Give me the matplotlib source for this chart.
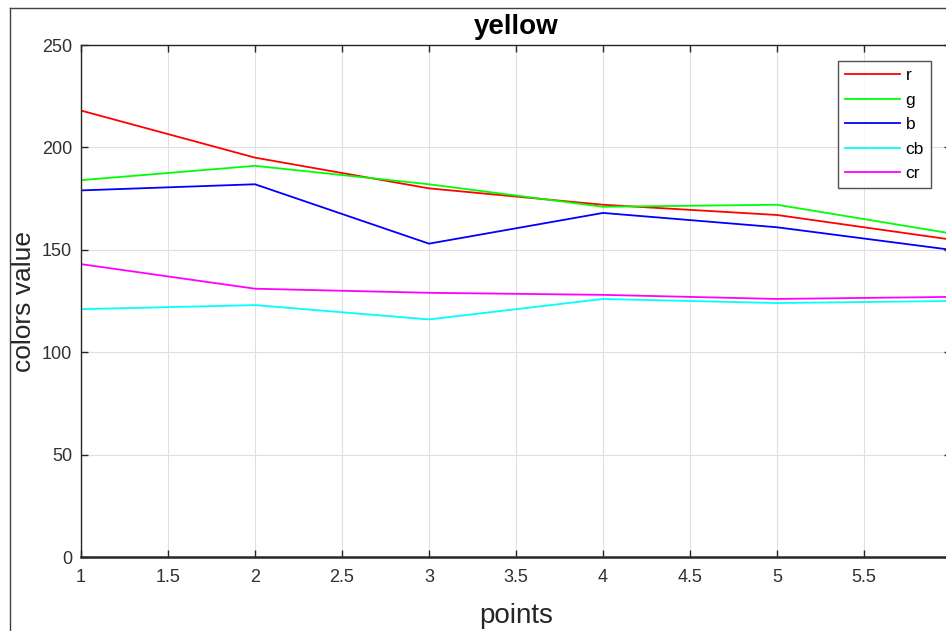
import matplotlib
matplotlib.use("Agg")
import matplotlib.pyplot as plt
from matplotlib.lines import Line2D

plt.rcParams["font.family"] = ["Liberation Sans", "DejaVu Sans"]

points = [1, 2, 3, 4, 5, 6]
r_vals = [218, 195, 180, 172, 167, 155]
g_vals = [184, 191, 182, 171, 172, 158]
b_vals = [179, 182, 153, 168, 161, 150]
cb_vals = [121, 123, 116, 126, 124, 125]
cr_vals = [143, 131, 129, 128, 126, 127]

series = [
    ("r", r_vals, "#ff0000"),
    ("g", g_vals, "#00ff00"),
    ("b", b_vals, "#0000ff"),
    ("cb", cb_vals, "#00ffff"),
    ("cr", cr_vals, "#ff00ff"),
]

W, H = 946, 631
fig = plt.figure(figsize=(W / 100, H / 100), dpi=100)
ax = fig.add_axes([81 / W, (H - 557) / H, (951 - 81) / W, (557 - 45) / H])

for name, vals, col in series:
    ax.plot(points, vals, color=col, linewidth=1.3, label=name)

ax.set_xlim(1, 6)
ax.set_ylim(0, 250)
ax.set_xticks([1, 1.5, 2, 2.5, 3, 3.5, 4, 4.5, 5, 5.5, 6])
ax.set_xticklabels(["1", "1.5", "2", "2.5", "3", "3.5", "4", "4.5", "5", "5.5", "6"])
ax.set_yticks([0, 50, 100, 150, 200, 250])
ax.grid(True, color="#e0e0e0", linewidth=0.8)
ax.tick_params(direction="in", length=5, width=1, top=True, right=True,
               labelsize=13, labelcolor="#303030", color="#262626")
ax.tick_params(axis="x", pad=9)
ax.tick_params(axis="y", pad=6.5)
for side in ["top", "left", "right"]:
    ax.spines[side].set_color("#262626")
    ax.spines[side].set_linewidth(1)
ax.spines["bottom"].set_color("#262626")
ax.spines["bottom"].set_linewidth(1.8)

ax.set_title("yellow", fontsize=20, fontweight="bold", pad=8)
ax.set_xlabel("points", fontsize=20, color="#262626", labelpad=12)
ax.set_ylabel("colors value", fontsize=19, color="#262626", labelpad=4)

leg = ax.legend(loc="upper right", bbox_to_anchor=((931 - 81) / (951 - 81), (557 - 61) / (557 - 45)),
                fontsize=12.5, handlelength=3.2, handletextpad=0.3, labelspacing=0.54,
                borderpad=0.4, frameon=True, fancybox=False, borderaxespad=0)
leg.get_frame().set_edgecolor("#262626")
leg.get_frame().set_linewidth(1)

# figure frame (screenshot border)
fig.add_artist(Line2D([9.5 / W, 9.5 / W], [0, 1 - 7.5 / H], transform=fig.transFigure,
                      color="#404040", linewidth=1))
fig.add_artist(Line2D([9.5 / W, 1], [1 - 7.5 / H, 1 - 7.5 / H], transform=fig.transFigure,
                      color="#404040", linewidth=1))

fig.savefig("out.png", dpi=100)
